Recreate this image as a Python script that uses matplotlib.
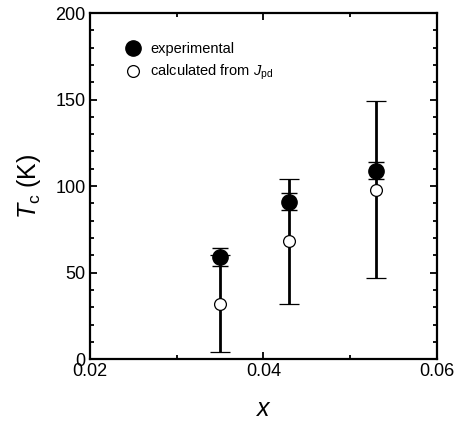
import matplotlib
matplotlib.use("Agg")
import matplotlib.pyplot as plt
from matplotlib.ticker import MultipleLocator

plt.rcParams["font.family"] = ["Liberation Sans", "DejaVu Sans"]
plt.rcParams["mathtext.fontset"] = "custom"
plt.rcParams["mathtext.rm"] = "Liberation Sans"
plt.rcParams["mathtext.it"] = "Liberation Sans:italic"

# data
x = [0.035, 0.043, 0.053]
tc_exp = [59, 91, 109]
tc_exp_err = [5, 5, 5]
tc_calc = [32, 68, 98]
tc_calc_err = [28, 36, 51]

fig = plt.figure(figsize=(4.61, 4.22), dpi=100)
ax = fig.add_axes([0.195, 0.149, 0.753, 0.82])

ax.errorbar(x, tc_calc, yerr=tc_calc_err, fmt="o", mfc="white", mec="black",
            ms=8.5, mew=0.9, ecolor="black", elinewidth=2.0, capsize=7,
            capthick=2.0, zorder=2, label=r"calculated from $J_{\mathrm{pd}}$")
ax.errorbar(x, tc_exp, yerr=tc_exp_err, fmt="o", mfc="black", mec="black",
            ms=11, ecolor="black", elinewidth=1.0, capsize=6, capthick=1.0,
            zorder=3, label="experimental")

ax.set_xlim(0.02, 0.06)
ax.set_ylim(0, 200)
ax.xaxis.set_minor_locator(MultipleLocator(0.01))
ax.yaxis.set_major_locator(MultipleLocator(50))
ax.yaxis.set_minor_locator(MultipleLocator(10))
ax.set_xticks([0.02, 0.04, 0.06])
ax.set_xticklabels(["0.02", "0.04", "0.06"])

ax.tick_params(which="both", direction="in", top=True, right=True,
               labelsize=13, width=1.3)
ax.tick_params(which="major", length=5, pad=3)
ax.tick_params(which="minor", length=3)
for sp in ax.spines.values():
    sp.set_linewidth(1.6)

ax.set_xlabel(r"$x$", fontsize=18, labelpad=12)
ax.set_ylabel(r"$T_{\mathrm{c}}$ (K)", fontsize=18, labelpad=9)

h, l = ax.get_legend_handles_labels()
leg = ax.legend([h[1][0], h[0][0]], [l[1], l[0]], loc="upper left",
                bbox_to_anchor=(0.06, 0.955), frameon=False, fontsize=10.5,
                handletextpad=0.6, labelspacing=0.5, handlelength=1.2)

fig.savefig("out.png", dpi=100)
